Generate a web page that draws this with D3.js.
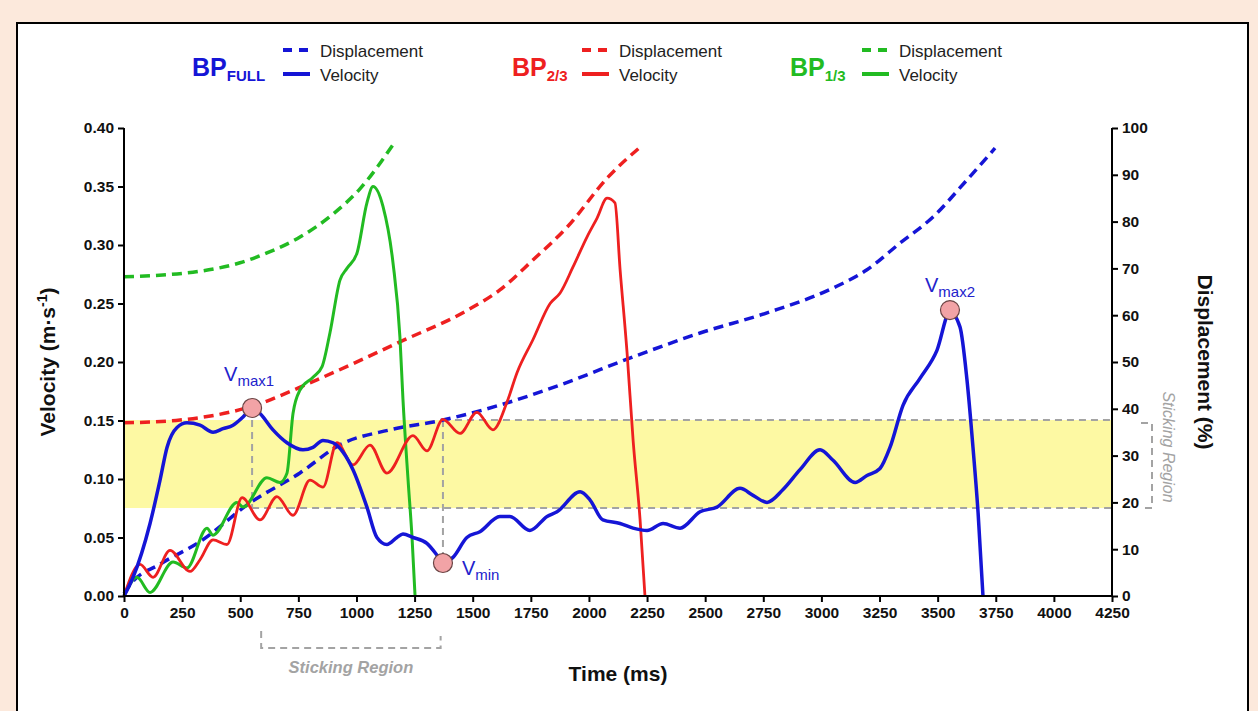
<!DOCTYPE html>
<html><head><meta charset="utf-8">
<script src="https://cdn.jsdelivr.net/npm/d3@7"></script>
<style>
body{margin:0;background:#fce9dc;}
svg{display:block;font-family:"Liberation Sans",Arial,Helvetica,sans-serif;}
</style>
</head><body>
<svg id="c" width="1258" height="711"></svg>
<script>
// ---------- DATA ----------
const timeTicks = d3.range(0, 4251, 250);
const velocityTicks = d3.range(0, 0.4001, 0.05);
const displacementTicks = d3.range(0, 101, 10);

// [time ms, velocity m/s]
const blueVelocity = [[0,0],[39,0.016],[112,0.062],[155,0.099],[185,0.127],[228,0.144],[271,0.148],[327,0.146],[383,0.140],[426,0.143],[469,0.146],[512,0.153],[551,0.161],[585,0.156],[641,0.142],[701,0.131],[770,0.125],[813,0.127],[856,0.133],[899,0.131],[942,0.123],[985,0.108],[1045,0.076],[1088,0.050],[1131,0.044],[1174,0.050],[1200,0.053],[1243,0.050],[1303,0.045],[1346,0.035],[1372,0.028],[1415,0.033],[1475,0.050],[1531,0.055],[1617,0.068],[1660,0.068],[1746,0.056],[1820,0.068],[1863,0.072],[1962,0.089],[2005,0.082],[2060,0.065],[2134,0.062],[2190,0.058],[2250,0.056],[2319,0.062],[2392,0.058],[2478,0.072],[2551,0.076],[2650,0.092],[2706,0.086],[2766,0.080],[2835,0.091],[2908,0.108],[2994,0.125],[3050,0.116],[3145,0.097],[3196,0.103],[3252,0.109],[3295,0.127],[3351,0.163],[3424,0.186],[3497,0.210],[3553,0.243],[3596,0.230],[3626,0.185],[3652,0.127],[3674,0.071],[3695,0]];
const redVelocity = [[0,0],[69,0.027],[125,0.016],[198,0.039],[284,0.021],[327,0.031],[383,0.048],[443,0.044],[508,0.084],[585,0.065],[658,0.085],[727,0.069],[800,0.099],[856,0.093],[916,0.131],[985,0.112],[1058,0.129],[1131,0.105],[1243,0.137],[1303,0.124],[1372,0.151],[1445,0.139],[1518,0.157],[1587,0.142],[1648,0.166],[1691,0.191],[1759,0.219],[1833,0.250],[1876,0.259],[1931,0.281],[1992,0.307],[2035,0.323],[2078,0.340],[2112,0.336],[2134,0.279],[2164,0.208],[2190,0.133],[2220,0.065],[2241,0]];
const greenVelocity = [[0,0],[56,0.016],[112,0.003],[211,0.029],[271,0.024],[357,0.058],[383,0.052],[486,0.080],[512,0.076],[615,0.101],[671,0.097],[701,0.105],[727,0.156],[757,0.176],[813,0.187],[852,0.196],[886,0.225],[929,0.270],[959,0.280],[1002,0.293],[1045,0.336],[1071,0.350],[1114,0.333],[1157,0.285],[1187,0.221],[1200,0.168],[1222,0.099],[1239,0.050],[1252,0]];

// [time ms, displacement %]
const blueDisplacement = [[0,0.5],[26,2.4],[155,6.8],[327,11.6],[542,19.9],[757,26.3],[929,32.3],[1144,35.5],[1372,37.6],[1617,40.8],[1876,45.1],[2190,51.1],[2478,56.2],[2766,60.5],[3050,65.8],[3196,69.7],[3338,75.4],[3480,81.0],[3626,88.9],[3747,95.7]];
const redDisplacement = [[0,37.0],[241,37.6],[542,40.4],[830,46.2],[1187,54.3],[1475,61.0],[1617,65.4],[1759,71.8],[1906,78.8],[2082,89.5],[2220,95.9]];
const greenDisplacement = [[0,68.2],[327,69.4],[499,71.2],[615,73.3],[757,76.7],[899,81.6],[1015,87.0],[1165,97.0]];

const stickLow = 18.8, stickHigh = 37.6;   // displacement % bounds of sticking region
const markers = [
  {sub:"max1", t:551, v:0.1607},
  {sub:"min",  t:1372, v:0.0282},
  {sub:"max2", t:3553, v:0.2444}
];
const legendGroups = [
  {main:"BP", sub:"FULL", color:"#1515d6"},
  {main:"BP", sub:"2/3", color:"#ee2020"},
  {main:"BP", sub:"1/3", color:"#22bb22"}
];

// ---------- DRAW ----------
const svg = d3.select("#c");
const W = 1258, H = 711;
const L = 124, R = 1112, T = 128, B = 596;

svg.append("rect").attr("x",0).attr("y",0).attr("width",W).attr("height",H).attr("fill","#fce9dc");
svg.append("rect").attr("x",17).attr("y",23).attr("width",1231).attr("height",720)
  .attr("fill","#fff").attr("stroke","#000").attr("stroke-width",2);

const x = d3.scaleLinear().domain([0,4250]).range([L,R]);
const yV = d3.scaleLinear().domain([0,0.4]).range([B,T]);
const yD = d3.scaleLinear().domain([0,100]).range([B,T]);

// sticking band
svg.append("rect").attr("x",L).attr("width",R-L)
  .attr("y",yD(stickHigh)).attr("height",yD(stickLow)-yD(stickHigh))
  .attr("fill","#fdf9a3");

const gray = "#a3a3a3";
const g = svg.append("g").attr("stroke",gray).attr("stroke-width",2).attr("stroke-dasharray","7,5").attr("fill","none");
g.append("line").attr("x1",x(markers[0].t)).attr("x2",R).attr("y1",yD(stickLow)).attr("y2",yD(stickLow));
g.append("line").attr("x1",x(markers[1].t)).attr("x2",R).attr("y1",yD(stickHigh)).attr("y2",yD(stickHigh));
g.append("line").attr("x1",x(markers[0].t)).attr("x2",x(markers[0].t)).attr("y1",yV(markers[0].v)).attr("y2",yD(stickLow));
g.append("line").attr("x1",x(markers[1].t)).attr("x2",x(markers[1].t)).attr("y1",yD(stickHigh)).attr("y2",yV(markers[1].v));

// bottom bracket
const bx1 = x(590), bx2 = x(1362);
g.append("path").attr("d",`M${bx1},631 V648 H${bx2} V636`);
svg.append("text").attr("x",(bx1+bx2)/2).attr("y",673).attr("text-anchor","middle")
  .attr("font-size",16.5).attr("font-weight","bold").attr("font-style","italic").attr("fill",gray)
  .text("Sticking Region");
// right bracket
g.append("path").attr("d",`M1141,${yD(stickHigh)+3} H1152 V${yD(stickLow)} H1141`);
svg.append("text").attr("transform",`translate(1163,${(yD(stickHigh)+yD(stickLow))/2-17}) rotate(90)`)
  .attr("text-anchor","middle").attr("font-size",16).attr("font-style","italic").attr("fill",gray)
  .text("Sticking Region");

// lines
const lineV = d3.line().x(d=>x(d[0])).y(d=>yV(d[1])).curve(d3.curveMonotoneX);
const lineD = d3.line().x(d=>x(d[0])).y(d=>yD(d[1])).curve(d3.curveMonotoneX);
const dash = "10,6";
[[greenDisplacement,"#22bb22"],[redDisplacement,"#ee2020"],[blueDisplacement,"#1515d6"]].forEach(([d,c])=>{
  svg.append("path").attr("d",lineD(d)).attr("fill","none").attr("stroke",c)
    .attr("stroke-width",3.5).attr("stroke-dasharray",dash);
});
[[greenVelocity,"#22bb22",3],[redVelocity,"#ee2020",2.8],[blueVelocity,"#1515d6",3.5]].forEach(([d,c,w])=>{
  svg.append("path").attr("d",lineV(d)).attr("fill","none").attr("stroke",c)
    .attr("stroke-width",w).attr("stroke-linejoin","round");
});

// axes
const fs = 15.5;
const ax = svg.append("g").attr("transform",`translate(0,${B})`)
  .call(d3.axisBottom(x).tickValues(timeTicks).tickSize(6).tickPadding(5).tickFormat(d3.format("d")));
const ayl = svg.append("g").attr("transform",`translate(${L},0)`)
  .call(d3.axisLeft(yV).tickValues(velocityTicks).tickSize(6).tickPadding(4).tickFormat(d3.format(".2f")));
const ayr = svg.append("g").attr("transform",`translate(${R},0)`)
  .call(d3.axisRight(yD).tickValues(displacementTicks).tickSize(6).tickPadding(4).tickFormat(d3.format("d")));
[ax,ayl,ayr].forEach(a=>{
  a.select(".domain").attr("stroke","#000").attr("stroke-width",2);
  a.selectAll(".tick line").attr("stroke","#000").attr("stroke-width",2);
  a.selectAll(".tick text").attr("font-size",fs).attr("font-weight","bold").attr("fill","#111")
    .attr("font-family","'Liberation Sans',Arial,sans-serif");
});
ax.select(".domain").attr("d",`M${L},0H${R}`);
ayl.select(".domain").attr("d",`M0,${T}V${B}`);
ayr.select(".domain").attr("d",`M0,${T}V${B}`);

// axis titles
svg.append("text").attr("x",(L+R)/2).attr("y",681).attr("text-anchor","middle")
  .attr("font-size",21).attr("font-weight","bold").attr("fill","#111").text("Time (ms)");
const vt = svg.append("text").attr("transform",`translate(55,${(T+B)/2}) rotate(-90)`)
  .attr("text-anchor","middle").attr("font-size",21).attr("font-weight","bold").attr("fill","#111");
vt.append("tspan").text("Velocity (m·s");
vt.append("tspan").attr("font-size",14).attr("dy",-8).text("-1");
vt.append("tspan").attr("dy",8).text(")");
svg.append("text").attr("transform",`translate(1198,${(T+B)/2}) rotate(90)`)
  .attr("text-anchor","middle").attr("font-size",21).attr("font-weight","bold").attr("fill","#111")
  .text("Displacement (%)");

// markers
const mk = svg.append("g");
markers.forEach(m=>{
  mk.append("circle").attr("cx",x(m.t)).attr("cy",yV(m.v)).attr("r",9.5)
    .attr("fill","#f2a3a6").attr("stroke","#6b4545").attr("stroke-width",1.2);
});
const labelOff = {max1:[-28,-27], min:[19,12], max2:[-25,-18]};
markers.forEach(m=>{
  const [dx,dy] = labelOff[m.sub];
  const t = svg.append("text").attr("x",x(m.t)+dx).attr("y",yV(m.v)+dy)
    .attr("fill","#2222cc").attr("font-size",20);
  t.append("tspan").text("V");
  t.append("tspan").attr("font-size",15).attr("dy",5).text(m.sub);
});

// legend
const legX = [192, 512, 790];
legendGroups.forEach((lg,i)=>{
  const x0 = legX[i];
  const t = svg.append("text").attr("x",x0).attr("y",76).attr("fill",lg.color).attr("font-size",25).attr("font-weight","bold");
  t.append("tspan").text(lg.main);
  t.append("tspan").attr("font-size",15).attr("dy",5).text(lg.sub);
  const lx = i===0 ? 283 : (i===1 ? 582 : 862);
  svg.append("line").attr("x1",lx).attr("x2",lx+27).attr("y1",50).attr("y2",50)
    .attr("stroke",lg.color).attr("stroke-width",4).attr("stroke-dasharray","9,7");
  svg.append("line").attr("x1",lx).attr("x2",lx+27).attr("y1",74).attr("y2",74)
    .attr("stroke",lg.color).attr("stroke-width",4);
  svg.append("text").attr("x",lx+37).attr("y",57).attr("font-size",17).attr("fill","#222").text("Displacement");
  svg.append("text").attr("x",lx+37).attr("y",81).attr("font-size",17).attr("fill","#222").text("Velocity");
});
</script>
</body></html>
